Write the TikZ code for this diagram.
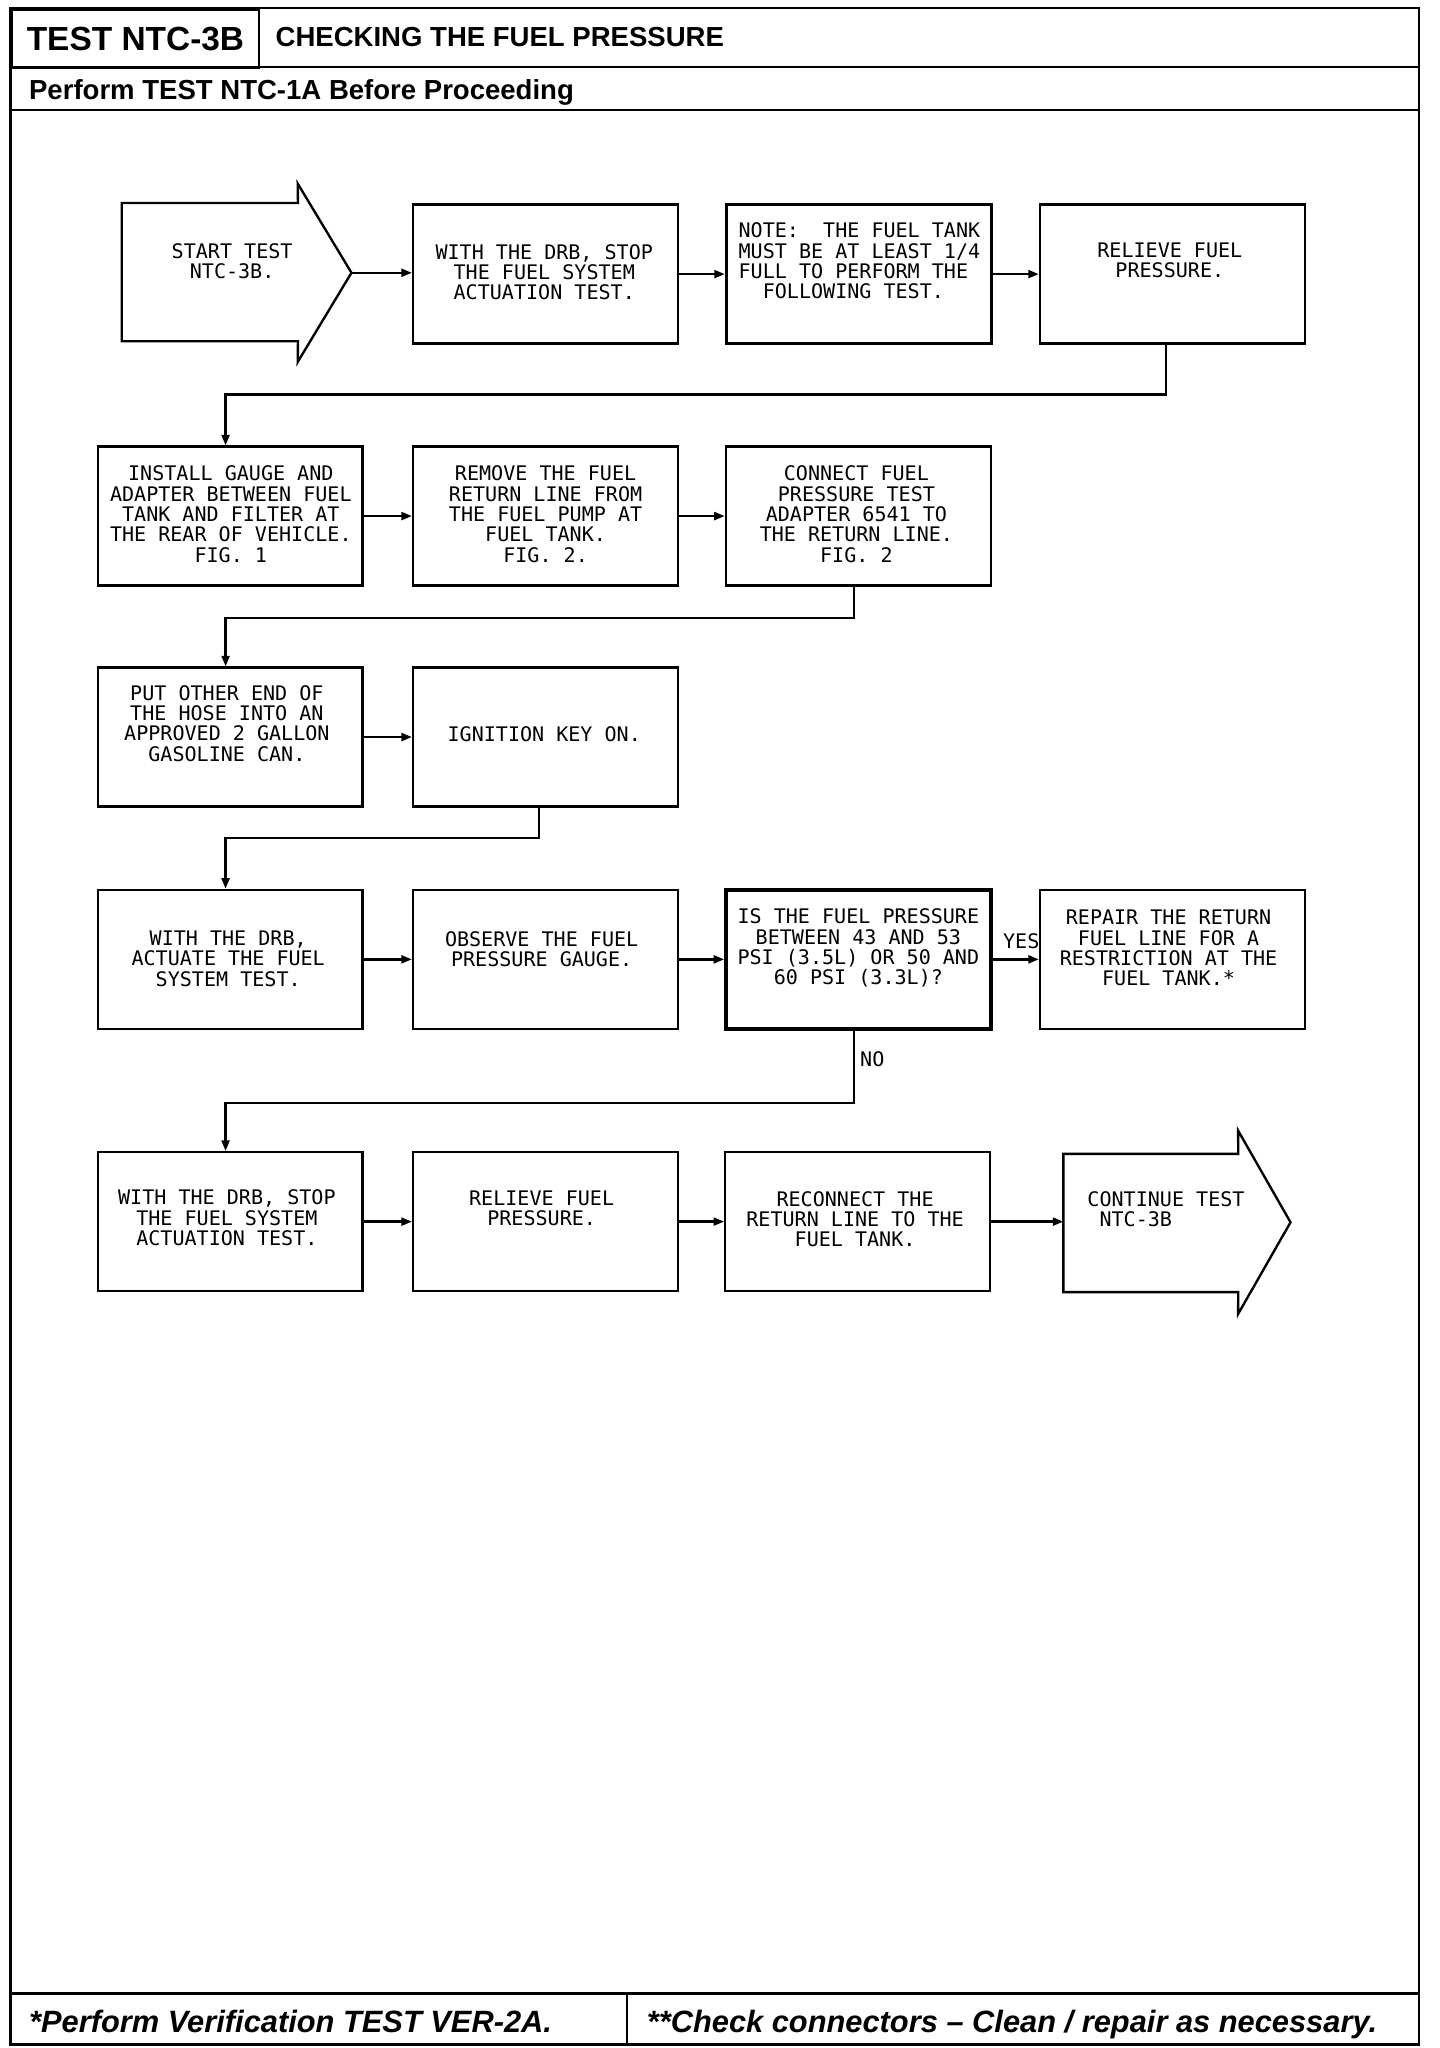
\documentclass[tikz,border=0pt]{standalone}
\usepackage{fontspec}
\setmainfont{Liberation Sans}
\newfontfamily\boxfont{DejaVu Sans Mono}
\usetikzlibrary{arrows.meta}
\begin{document}
\begin{tikzpicture}[x=1pt,y=-1pt,
  box/.style={draw, line width=1.8pt, minimum width=202pt, minimum height=106pt, inner sep=0pt},
  thickbox/.style={box, line width=2.6pt},
  shapebox/.style={minimum width=134pt, minimum height=105pt, inner sep=0pt},
  outline/.style={line width=1.8pt, line join=miter},
  txt/.style={font={\boxfont\fontsize{15.3pt}{15.5pt}\selectfont}, align=center, inner sep=0pt},
  conn/.style={line width=1.8pt, -{Triangle[length=8pt,width=6pt]}},
  rule/.style={line width=1.8pt},
  hdr/.style={inner sep=0pt, anchor=base west}]
\useasboundingbox (0,0) rectangle (1098,1561.6);
% frame and header
\draw[rule] (8,6) rectangle (1082,1559);
\node[draw, line width=1.6pt, anchor=north west, minimum width=189pt, minimum height=44pt, inner sep=0pt,
  font=\bfseries\fontsize{25.5pt}{28pt}\selectfont] (ttl) at (8,7) {TEST NTC-3B};
\node[hdr, font=\bfseries\fontsize{21pt}{24pt}\selectfont] (title) at (210,35.5) {CHECKING THE FUEL PRESSURE};
\draw[rule] (8,51) -- (1082,51);
\node[hdr, font=\bfseries\fontsize{21pt}{24pt}\selectfont] (pre) at (22,75.5) {Perform TEST NTC-1A Before Proceeding};
\draw[rule] (8,84) -- (1082,84);
% footer
\draw[rule] (8,1520) -- (1082,1520);
\draw[rule] (478,1520) -- (478,1559);
\node[hdr, font=\bfseries\itshape\fontsize{23.5pt}{26pt}\selectfont] (fl) at (22,1550) {*Perform Verification TEST VER-2A.};
\node[hdr, font=\bfseries\itshape\fontsize{23.5pt}{26pt}\selectfont] (fr) at (493,1550) {**Check connectors – Clean / repair as necessary.};

% start arrow
\node[shapebox] (a) at (160,207.5) {};
\coordinate (atip) at (268,208);
\draw[outline] (a.north west) -- (a.north east) -- (227,140) -- (atip) -- (227,276) -- (a.south east) -- (a.south west) -- cycle;
% boxes
\node[box] (b) at (416,209) {};
\node[thickbox] (c) at (655,209) {};
\node[box] (d) at (894,209) {};
\node[box] (e) at (175.5,393.5) {};
\node[box] (f) at (416,393.5) {};
\node[box] (g) at (654.5,393.5) {};
\node[box] (h) at (175.5,562) {};
\node[box] (i) at (416,562) {};
\node[box] (j) at (175.5,731.5) {};
\node[box] (k) at (416,731.5) {};
\node[thickbox] (l) at (654.5,731.5) {};
\node[box] (m) at (894,731.5) {};
\node[box] (n) at (175.5,931.5) {};
\node[box] (o) at (416,931.5) {};
\node[box] (p) at (654,931.5) {};
% continue arrow
\node[shapebox, minimum width=133pt] (q) at (877.5,932.5) {};
\draw[outline] (q.south west) -- (q.north west) -- (q.north east) -- (944,862) -- (984,932) -- (944,1002) -- (q.south east) -- cycle;

% texts
\node[txt] (ta) at (177,199) {START TEST\\NTC-3B.};
\node[txt] (tb) at (415,207.5) {WITH THE DRB, STOP\\THE FUEL SYSTEM\\ACTUATION TEST.};
\node[txt, align=left, anchor=west] (tc) at (563,199) {NOTE:~~THE FUEL TANK\\MUST BE AT LEAST 1/4\\FULL TO PERFORM THE\\\phantom{XX}FOLLOWING TEST.};
\node[txt] (td) at (892,198.5) {RELIEVE FUEL\\PRESSURE.};
\node[txt] (te) at (176,392) {INSTALL GAUGE AND\\ADAPTER BETWEEN FUEL\\TANK AND FILTER AT\\THE REAR OF VEHICLE.\\FIG. 1};
\node[txt] (tf) at (416,392) {REMOVE THE FUEL\\RETURN LINE FROM\\THE FUEL PUMP AT\\FUEL TANK.\\FIG. 2.};
\node[txt] (tg) at (653,392) {CONNECT FUEL\\PRESSURE TEST\\ADAPTER 6541 TO\\THE RETURN LINE.\\FIG. 2};
\node[txt] (th) at (173,551.5) {PUT OTHER END OF\\THE HOSE INTO AN\\APPROVED 2 GALLON\\GASOLINE CAN.};
\node[txt] (ti) at (415,560) {IGNITION KEY ON.};
\node[txt] (tj) at (174,731) {WITH THE DRB,\\ACTUATE THE FUEL\\SYSTEM TEST.};
\node[txt] (tk) at (413,723.5) {OBSERVE THE FUEL\\PRESSURE GAUGE.};
\node[txt] (tl) at (654.5,723) {IS THE FUEL PRESSURE\\BETWEEN 43 AND 53\\PSI (3.5L) OR 50 AND\\60 PSI (3.3L)?};
\node[txt] (tm) at (891,723) {REPAIR THE RETURN\\FUEL LINE FOR A\\RESTRICTION AT THE\\FUEL TANK.*};
\node[txt] (tn) at (173,928.5) {WITH THE DRB, STOP\\THE FUEL SYSTEM\\ACTUATION TEST.};
\node[txt] (to) at (413,921.5) {RELIEVE FUEL\\PRESSURE.};
\node[txt] (tp) at (652,929.5) {RECONNECT THE\\RETURN LINE TO THE\\FUEL TANK.};
\node[txt, align=left, anchor=west] (tq) at (829,922) {CONTINUE TEST\\\phantom{X}NTC-3B};

% connectors
\draw[conn] (atip) -- (atip -| b.west);
\draw[conn] (b) -- (c);
\draw[conn] (c) -- (d);
\draw[conn] ([xshift=-5pt]d.south) -- ++(0,38) -| ([xshift=-3.5pt]e.north);
\draw[conn] (e) -- (f);
\draw[conn] (f) -- (g);
\draw[conn] ([xshift=-3.5pt]g.south) -- ++(0,24) -| ([xshift=-3.5pt]h.north);
\draw[conn] (h) -- (i);
\draw[conn] ([xshift=-5pt]i.south) -- ++(0,23) -| ([xshift=-3.5pt]j.north);
\draw[conn] (j) -- (k);
\draw[conn] (k) -- (l);
\draw[conn] (l) -- node[txt, pos=0.62, above=7pt] (yes) {YES} (m);
\draw[conn] ([xshift=-3.5pt]l.south) -- node[txt, pos=0.4, right=4pt] (no) {NO} ++(0,55) -| ([xshift=-3.5pt]n.north);
\draw[conn] (n) -- (o);
\draw[conn] (o) -- (p);
\draw[conn] (p) -- (p -| q.west);
\end{tikzpicture}
\end{document}
